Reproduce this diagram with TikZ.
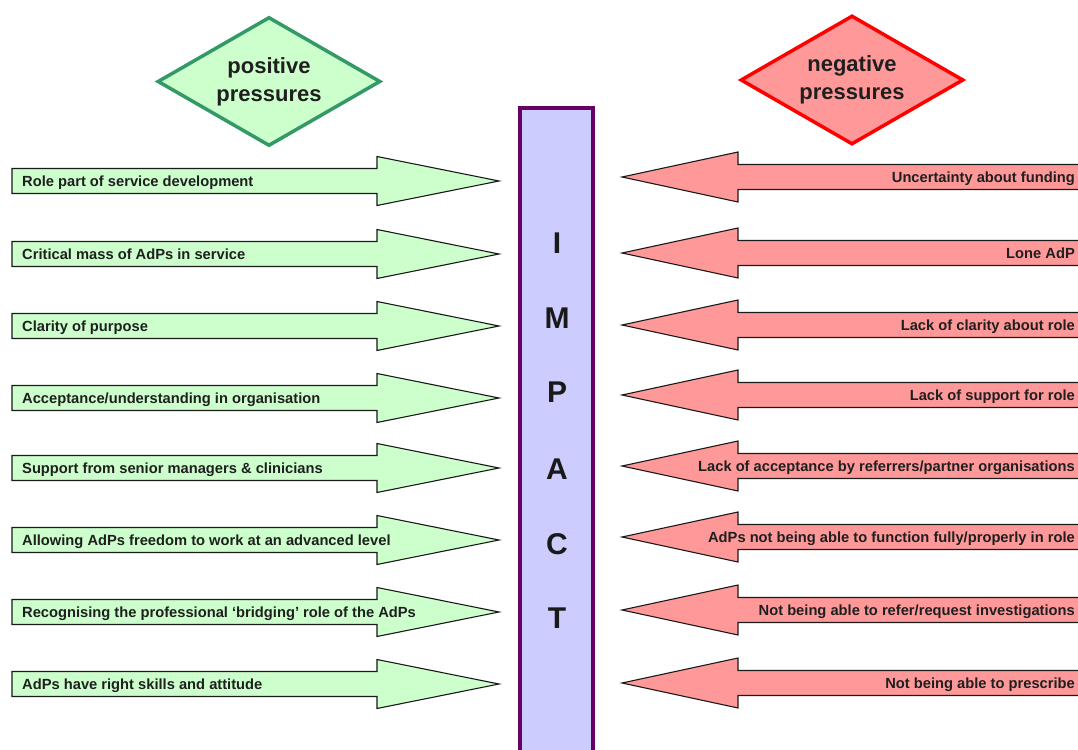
\documentclass[tikz,border=0pt]{standalone}
\usepackage{fontspec}
\setmainfont{Liberation Sans}
\usetikzlibrary{shapes.geometric}
\definecolor{posfill}{HTML}{CCFFCC}
\definecolor{posline}{HTML}{339966}
\definecolor{negfill}{HTML}{FF9999}
\definecolor{negline}{HTML}{FF0000}
\definecolor{impfill}{HTML}{CCCCFF}
\definecolor{impline}{HTML}{660066}
\definecolor{arrline}{HTML}{1A1A1A}
\tikzset{
  posarr/.style={fill=posfill, draw=arrline, line width=1.1pt, line join=miter},
  negarr/.style={fill=negfill, draw=arrline, line width=1.1pt, line join=miter},
  lbl/.style={inner sep=0pt, font=\bfseries\fontsize{14.7}{17}\selectfont, text=black!88},
  titlebox/.style={diamond, aspect=1.73, inner sep=0pt, minimum width=223pt, minimum height=129pt,
    line width=3.5pt, align=center, font=\bfseries\fontsize{22}{28}\selectfont, text=black!88},
  letter/.style={font=\bfseries\fontsize{30}{30}\selectfont, inner sep=0pt, anchor=base, text=black!90},
  impbox/.style={draw=impline, fill=impfill, line width=4pt, inner sep=0pt,
    minimum width=72.7pt, minimum height=700pt, anchor=north}
}
\newcommand\PosArrow[3]{%
  \draw[posarr] (12,#2-12.5) -- (377,#2-12.5) -- (377,#2-24.5) -- (499,#2)
    -- (377,#2+24.5) -- (377,#2+12.5) -- (12,#2+12.5) -- cycle;
  \node[lbl, anchor=base west] (#1) at (22,#2+5) {#3};}
\newcommand\NegArrow[3]{%
  \draw[negarr] (1095,#2-12.5) -- (738,#2-12.5) -- (738,#2-25) -- (622,#2)
    -- (738,#2+25) -- (738,#2+12.5) -- (1095,#2+12.5) -- cycle;
  \node[lbl, anchor=base east] (#1) at (1075,#2+5) {#3};}
\begin{document}
\begin{tikzpicture}[x=1pt, y=-1pt]
\useasboundingbox (0,0) rectangle (1078,749);
\clip (0,0) rectangle (1078,749);
\fill[white] (0,0) rectangle (1078,749);

\node[titlebox, draw=posline, fill=posfill] (pos) at (269,81.5) {positive\\pressures};
\node[titlebox, draw=negline, fill=negfill] (neg) at (852,80) {negative\\pressures};

\node[impbox] (impact) at (556.6,106) {};
\node[letter] (lI) at (557,253.7) {I};
\node[letter] (lM) at (557,328.7) {M};
\node[letter] (lP) at (557,402.7) {P};
\node[letter] (lA) at (557,479.7) {A};
\node[letter] (lC) at (557,554.7) {C};
\node[letter] (lT) at (557,628.7) {T};

\PosArrow{p1}{181}{Role part of service development}
\PosArrow{p2}{254}{Critical mass of AdPs in service}
\PosArrow{p3}{326}{Clarity of purpose}
\PosArrow{p4}{398}{Acceptance/understanding in organisation}
\PosArrow{p5}{468}{Support from senior managers \& clinicians}
\PosArrow{p6}{540}{Allowing AdPs freedom to work at an advanced level}
\PosArrow{p7}{612}{Recognising the professional ‘bridging’ role of the AdPs}
\PosArrow{p8}{684}{AdPs have right skills and attitude}

\NegArrow{n1}{177}{Uncertainty about funding}
\NegArrow{n2}{253}{Lone AdP}
\NegArrow{n3}{325}{Lack of clarity about role}
\NegArrow{n4}{395}{Lack of support for role}
\NegArrow{n5}{466}{Lack of acceptance by referrers/partner organisations}
\NegArrow{n6}{537}{AdPs not being able to function fully/properly in role}
\NegArrow{n7}{610}{Not being able to refer/request investigations}
\NegArrow{n8}{683}{Not being able to prescribe}
\end{tikzpicture}
\end{document}
